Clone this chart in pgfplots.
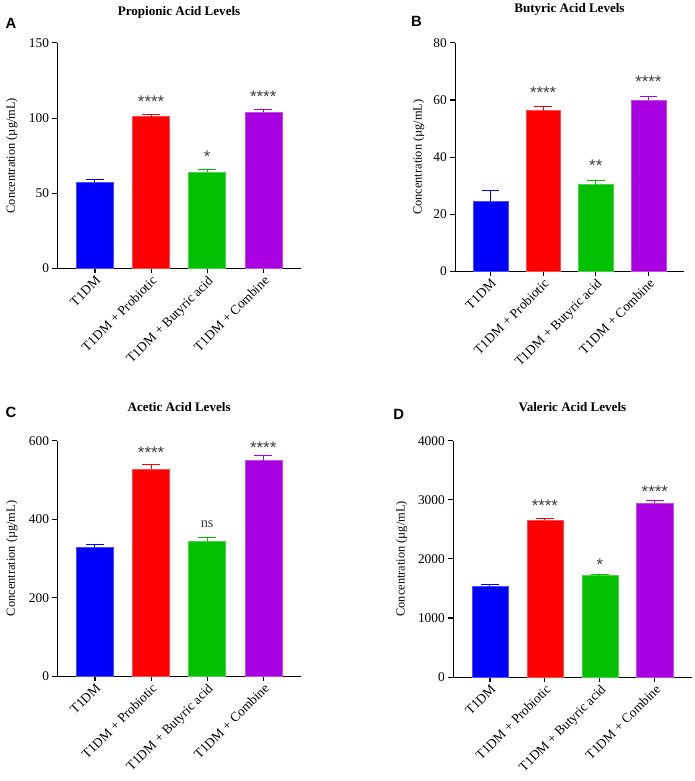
\documentclass[border=0pt]{standalone}
\usepackage{pgfplots}
\pgfplotsset{compat=1.18}
\usepackage{fontspec}
\setmainfont{Liberation Serif}
\newfontfamily\sansb{Liberation Sans}
\definecolor{cblue}{RGB}{0,0,255}
\definecolor{cred}{RGB}{255,0,0}
\definecolor{cgreen}{RGB}{0,192,0}
\definecolor{cpurple}{RGB}{168,0,224}
\definecolor{stargray}{RGB}{60,60,60}
\tikzset{sigstar/.style={font=\fontsize{17}{18}\sansb, text=stargray, inner sep=0pt}}
\pgfplotsset{
  panel/.style={
    scale only axis,
    axis lines*=left,
    axis line style={-, line width=1.1pt, black},
    ybar, bar width=0.66,
    xmin=-0.67, xmax=3.67, ymin=0,
    xtick={0,1,2,3},
    xticklabels={T1DM, T1DM + Probiotic, T1DM + Butyric acid, T1DM + Combine},
    x tick label style={rotate=45, anchor=north east, font=\fontsize{13.5}{15}\selectfont, inner sep=1pt},
    y tick label style={font=\fontsize{13.5}{15}\selectfont},
    /pgf/number format/assume math mode=true,
    /pgf/number format/1000 sep={},
    tick align=outside, tickwidth=5pt,
    tick style={line width=1.1pt, black},
    ylabel={Concentration (µg/mL)},
    ylabel style={font=\fontsize{12.5}{14}\selectfont, anchor=center},
    title style={font=\fontsize{13.2}{15}\selectfont\bfseries, at={(axis description cs:0.5,1)}, anchor=center},
    clip=false,
  },
  barstyle/.style={fill=#1, draw=#1!70!white, line width=0.4pt, bar shift=0pt,
    error bars/.cd, y dir=plus, y explicit,
    error mark options={rotate=90, mark size=9pt, line width=1pt, #1},
    error bar style={line width=1pt, #1}},
}
\begin{document}
\begin{tikzpicture}
\path (0pt,0pt) rectangle (702pt,-781pt);
% Panel A
\begin{axis}[panel, at={(58pt,-263pt)}, anchor=south west, width=246pt, height=228pt,
  ymax=150, ytick={0,50,100,150},
  ylabel style={at={(axis description cs:-0.187,0.5)}},
  title={Propionic Acid Levels}, title style={yshift=25pt}]
\addplot[barstyle=cblue] coordinates {(0,57.5) +- (0,1.5)};
\addplot[barstyle=cred] coordinates {(1,101) +- (0,1.6)};
\addplot[barstyle=cgreen] coordinates {(2,64) +- (0,1.5)};
\addplot[barstyle=cpurple] coordinates {(3,104) +- (0,1.6)};
\node[sigstar] at (axis cs:1,111) {****};
\node[sigstar] at (axis cs:3,114) {****};
\node[sigstar] at (axis cs:2,74.5) {*};
\end{axis}
% Panel B
\begin{axis}[panel, at={(460pt,-266pt)}, anchor=south west, width=231pt, height=231pt,
  ymax=80, ytick={0,20,40,60,80},
  ylabel style={at={(axis description cs:-0.16,0.5)}},
  title={Butyric Acid Levels}, title style={yshift=28pt}]
\addplot[barstyle=cblue] coordinates {(0,24.5) +- (0,3.7)};
\addplot[barstyle=cred] coordinates {(1,56.3) +- (0,1.3)};
\addplot[barstyle=cgreen] coordinates {(2,30.4) +- (0,1.3)};
\addplot[barstyle=cpurple] coordinates {(3,60) +- (0,1.3)};
\node[sigstar] at (axis cs:1,62.6) {****};
\node[sigstar] at (axis cs:3,66.4) {****};
\node[sigstar] at (axis cs:2,37) {**};
\end{axis}
% Panel C
\begin{axis}[panel, at={(58pt,-675pt)}, anchor=south west, width=246pt, height=238pt,
  ymax=600, ytick={0,200,400,600},
  ylabel style={at={(axis description cs:-0.187,0.5)}},
  title={Acetic Acid Levels}, title style={yshift=28pt}]
\addplot[barstyle=cblue] coordinates {(0,328) +- (0,8)};
\addplot[barstyle=cred] coordinates {(1,528) +- (0,12)};
\addplot[barstyle=cgreen] coordinates {(2,344) +- (0,8)};
\addplot[barstyle=cpurple] coordinates {(3,549) +- (0,13)};
\node[sigstar] at (axis cs:1,568) {****};
\node[sigstar] at (axis cs:3,583) {****};
\node[font=\fontsize{14.5}{16}\selectfont, text=stargray] at (axis cs:2,388) {ns};
\end{axis}
% Panel D
\begin{axis}[panel, at={(458pt,-676pt)}, anchor=south west, width=241pt, height=239pt,
  ymax=4000, ytick={0,1000,2000,3000,4000},
  ylabel style={at={(axis description cs:-0.216,0.5)}},
  title={Valeric Acid Levels}, title style={yshift=28pt}]
\addplot[barstyle=cblue] coordinates {(0,1540) +- (0,20)};
\addplot[barstyle=cred] coordinates {(1,2650) +- (0,30)};
\addplot[barstyle=cgreen] coordinates {(2,1720) +- (0,15)};
\addplot[barstyle=cpurple] coordinates {(3,2950) +- (0,30)};
\node[sigstar] at (axis cs:1,2900) {****};
\node[sigstar] at (axis cs:3,3140) {****};
\node[sigstar] at (axis cs:2,1900) {*};
\end{axis}
% Panel letters
\node[font=\fontsize{15}{16}\sansb\bfseries] at (11pt,-15pt) {A};
\node[font=\fontsize{15}{16}\sansb\bfseries] at (421pt,-13pt) {B};
\node[font=\fontsize{15}{16}\sansb\bfseries] at (11pt,-408pt) {C};
\node[font=\fontsize{15}{16}\sansb\bfseries] at (403pt,-410pt) {D};
\end{tikzpicture}
\end{document}
